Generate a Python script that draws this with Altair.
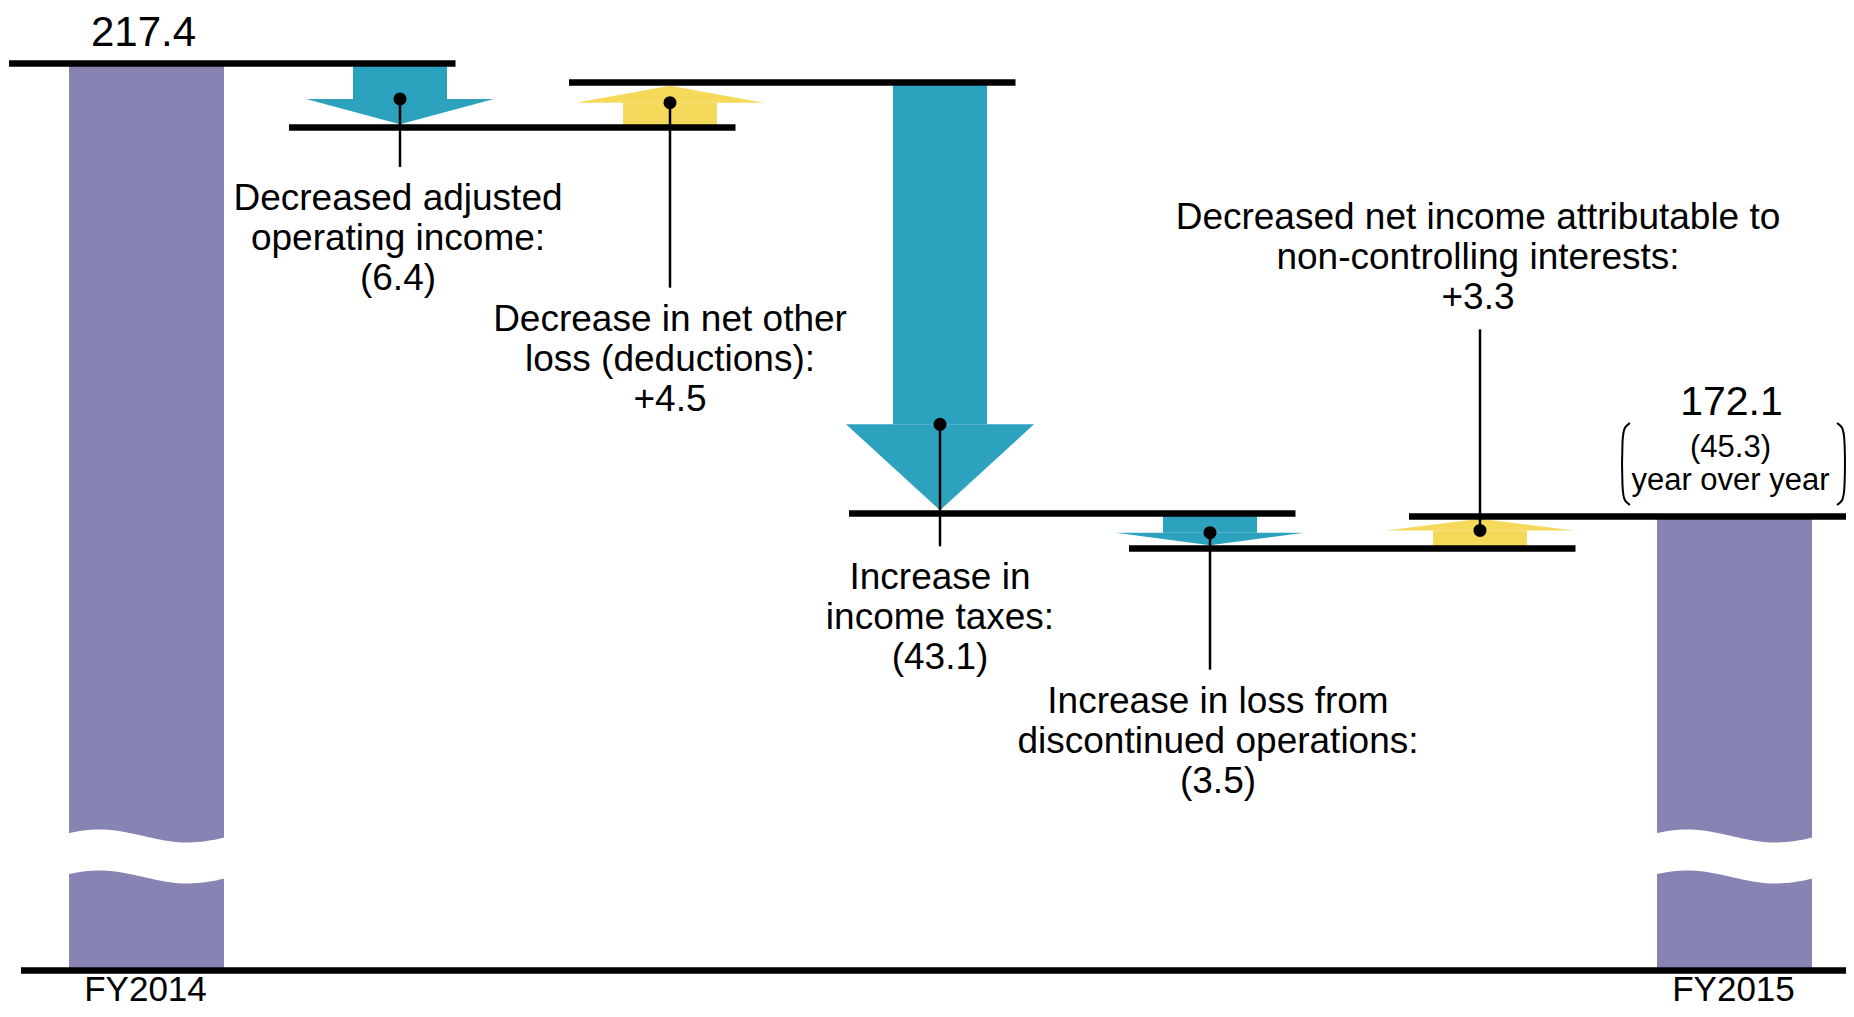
import math
import altair as alt
import pandas as pd

# ---------------- data ----------------
period_labels = ["FY2014", "FY2015"]
period_values = [217.4, 172.1]
period_value_texts = ["217.4", "172.1"]
yoy_texts = ["(45.3)", "year over year"]
step_titles = [
    "Decreased adjusted\noperating income:",
    "Decrease in net other\nloss (deductions):",
    "Increase in\nincome taxes:",
    "Increase in loss from\ndiscontinued operations:",
    "Decreased net income attributable to\nnon-controlling interests:",
]
step_changes = [-6.4, 4.5, -43.1, -3.5, 3.3]
step_change_texts = ["(6.4)", "+4.5", "(43.1)", "(3.5)", "+3.3"]

# ---------------- layout / style ----------------
W, H = 1838, 1000
PX = 10.0                      # pixels per unit on the (broken) value axis
Y_MAX = period_values[0] + 5.55
Y_MIN = Y_MAX - H / PX
AXIS_FLOOR = period_values[0] - 90.7   # where the broken axis is drawn

FONT = "Liberation Sans"
TEAL = "#2DA2BF"
YELLOW = "#F4D95B"
PURPLE = "#8783B3"

LINE_X0, LINE_STEP, LINE_LEN, LINE_T = 1, 280, 446.5, 6.4
ARROW_X0, ARROW_STEP = 392, 270
SHAFT_W, HEAD_W = 94, 188
HEAD_RATIO, HEAD_MAX_PX = 0.44, 86
BAR_CENTERS = [138.5, 1726.5]
BAR_W = 155
LEADER_PX = [68, 185, 122, 137, -201]      # leader length from dot (+ down)
LABEL_DX = [-2, 0, 0, 8, -2]
LABEL_GAP_BELOW, LABEL_GAP_ABOVE = 43, 20
LINE_H = 40
VALUE_RISE = [17.5, 101.5]
YOY_RISE = 60
YOY_LINE_H = 33
AXIS_LABEL_DROP = 30
AXIS_LABEL_SIZE = 35
WAVE_ABOVE_FLOOR, WAVE_GAP, WAVE_AMP = 134.5, 41, 6.5

xs = alt.Scale(domain=[0, W], nice=False, zero=False)
ys = alt.Scale(domain=[Y_MIN, Y_MAX], nice=False, zero=False)


def X(f):
    return alt.X(f, type="quantitative", scale=xs, axis=None)


def Y(f):
    return alt.Y(f, type="quantitative", scale=ys, axis=None)


# cumulative levels
levels = [period_values[0]]
for d in step_changes:
    levels.append(round(levels[-1] + d, 1))
line_levels = levels[:-1] + [period_values[1]]

lines_df = pd.DataFrame({
    "x": [LINE_X0 + k * LINE_STEP for k in range(len(line_levels))],
    "x2": [LINE_X0 + k * LINE_STEP + LINE_LEN for k in range(len(line_levels))],
    "y": line_levels,
})

bars_df = pd.DataFrame({
    "x": [c - BAR_W / 2 for c in BAR_CENTERS],
    "x2": [c + BAR_W / 2 for c in BAR_CENTERS],
    "y": [AXIS_FLOOR] * 2,
    "y2": period_values,
})

half = LINE_T / 2 / PX
shaft_rows, head_rows, dot_rows, label_rows = [], [], [], []
for i, d in enumerate(step_changes):
    c = ARROW_X0 + i * ARROW_STEP
    a, b = levels[i], levels[i + 1]
    sign = 1 if d > 0 else -1
    kind = "increase" if d > 0 else "decrease"
    tip = b - sign * half
    head = min(HEAD_RATIO * (abs(d) - 2 * half), HEAD_MAX_PX / PX)
    base = tip - sign * head
    shaft_rows.append({"x": c - SHAFT_W / 2, "x2": c + SHAFT_W / 2,
                       "y": a, "y2": base, "kind": kind})
    head_rows.append({"id": i, "y": base, "x": c - HEAD_W / 2, "x2": c + HEAD_W / 2, "kind": kind})
    head_rows.append({"id": i, "y": tip, "x": c, "x2": c, "kind": kind})
    lend = base - LEADER_PX[i] / PX
    dot_rows.append({"x": c, "y": base, "y2": lend})
    text = step_titles[i] + "\n" + step_change_texts[i]
    n = text.count("\n")
    if LEADER_PX[i] > 0:
        first = lend - LABEL_GAP_BELOW / PX
    else:
        first = lend + (LABEL_GAP_ABOVE + n * LINE_H) / PX
    label_rows.append({"x": c + LABEL_DX[i], "y": first, "text": text})

shaft_df = pd.DataFrame(shaft_rows)
head_df = pd.DataFrame(head_rows)
dot_df = pd.DataFrame(dot_rows)
label_df = pd.DataFrame(label_rows)

# axis-break waves
wave_rows = []
NW = 40
for j, c in enumerate(BAR_CENTERS):
    for s in range(NW + 1):
        t = s / NW
        top = AXIS_FLOOR + (WAVE_ABOVE_FLOOR + WAVE_AMP * math.cos(2 * math.pi * (t - 0.2) / 1.12)) / PX
        wave_rows.append({"bar": j, "x": c - BAR_W / 2 - 1 + t * (BAR_W + 2),
                          "y": top, "y2": top - WAVE_GAP / PX})
wave_df = pd.DataFrame(wave_rows)

value_df = pd.DataFrame({
    "x": [c - 3 for c in BAR_CENTERS],
    "y": [v + r / PX for v, r in zip(period_values, VALUE_RISE)],
    "text": period_value_texts,
    "size": [42, 41],
})
yoy_df = pd.DataFrame({
    "x": [BAR_CENTERS[1] - 4],
    "y": [period_values[1] + YOY_RISE / PX],
    "text": ["\n".join(yoy_texts)],
})
axis_df = pd.DataFrame({
    "x": [c - 1 for c in BAR_CENTERS],
    "y": [AXIS_FLOOR - AXIS_LABEL_DROP / PX] * 2,
    "text": period_labels,
})
base_df = pd.DataFrame({"x": [13], "x2": [W + 8], "y": [AXIS_FLOOR]})

# bracket around the year-over-year change
bt = period_values[1] + 93.5 / PX
bb = period_values[1] + 11.5 / PX
br_rows = []
for side, vx, hx in [("L", BAR_CENTERS[1] - 112.5, BAR_CENTERS[1] - 104.5),
                     ("R", BAR_CENTERS[1] + 110.5, BAR_CENTERS[1] + 102.5)]:
    pts = [(hx, bt), ((hx + vx) / 2 + (vx - hx) * 0.15, bt - 0.35), (vx, bt - 1.2),
           (vx, bb + 1.2), ((hx + vx) / 2 + (vx - hx) * 0.15, bb + 0.35), (hx, bb)]
    for o, (px_, py_) in enumerate(pts):
        br_rows.append({"side": side, "o": o, "x": px_, "y": py_})
br_df = pd.DataFrame(br_rows)

color = alt.Color("kind:N", scale=alt.Scale(domain=["decrease", "increase"], range=[TEAL, YELLOW]), legend=None)

bars = alt.Chart(bars_df).mark_rect(color=PURPLE).encode(X("x"), x2="x2", y=Y("y"), y2="y2")
waves = alt.Chart(wave_df).mark_area(color="white", orient="vertical").encode(
    X("x"), y=Y("y"), y2="y2", detail="bar:N")
shafts = alt.Chart(shaft_df).mark_rect().encode(X("x"), x2="x2", y=Y("y"), y2="y2", color=color)
heads = alt.Chart(head_df).mark_area(orient="horizontal").encode(
    y=Y("y"), x=X("x"), x2="x2", detail="id:N", color=color)
lines = alt.Chart(lines_df).mark_rule(color="black", strokeWidth=LINE_T, strokeCap="butt").encode(
    X("x"), x2="x2", y=Y("y"))
baseline = alt.Chart(base_df).mark_rule(color="black", strokeWidth=6.5, strokeCap="butt").encode(
    X("x"), x2="x2", y=Y("y"))
leaders = alt.Chart(dot_df).mark_rule(color="black", strokeWidth=2.5).encode(X("x"), y=Y("y"), y2="y2")
dots = alt.Chart(dot_df).mark_circle(color="black", size=170, opacity=1).encode(X("x"), y=Y("y"))
labels = alt.Chart(label_df).mark_text(font=FONT, fontSize=37, lineBreak="\n", lineHeight=LINE_H,
                                       align="center", baseline="alphabetic", color="black").encode(
    X("x"), y=Y("y"), text="text:N")
values = alt.Chart(value_df).mark_text(font=FONT, align="center", baseline="alphabetic", color="black").encode(
    X("x"), y=Y("y"), text="text:N", size=alt.Size("size:Q", scale=None, legend=None))
yoy = alt.Chart(yoy_df).mark_text(font=FONT, fontSize=31, lineBreak="\n", lineHeight=YOY_LINE_H,
                                  align="center", baseline="alphabetic", color="black").encode(
    X("x"), y=Y("y"), text="text:N")
axis_labels = alt.Chart(axis_df).mark_text(font=FONT, fontSize=AXIS_LABEL_SIZE, align="center",
                                           baseline="alphabetic", color="black").encode(
    X("x"), y=Y("y"), text="text:N")
bracket = alt.Chart(br_df).mark_line(color="black", strokeWidth=2, interpolate="basis").encode(
    X("x"), y=Y("y"), detail="side:N", order="o:Q")

chart = alt.layer(
    bars, waves, shafts, heads, lines, baseline, leaders, dots, labels, values, yoy, axis_labels, bracket
).properties(
    width=W, height=H, padding=0, autosize=alt.AutoSizeParams(type="none"), background="white"
).configure_view(strokeWidth=0)

chart.save("out.html", embed_options={"renderer": "svg", "actions": False})
